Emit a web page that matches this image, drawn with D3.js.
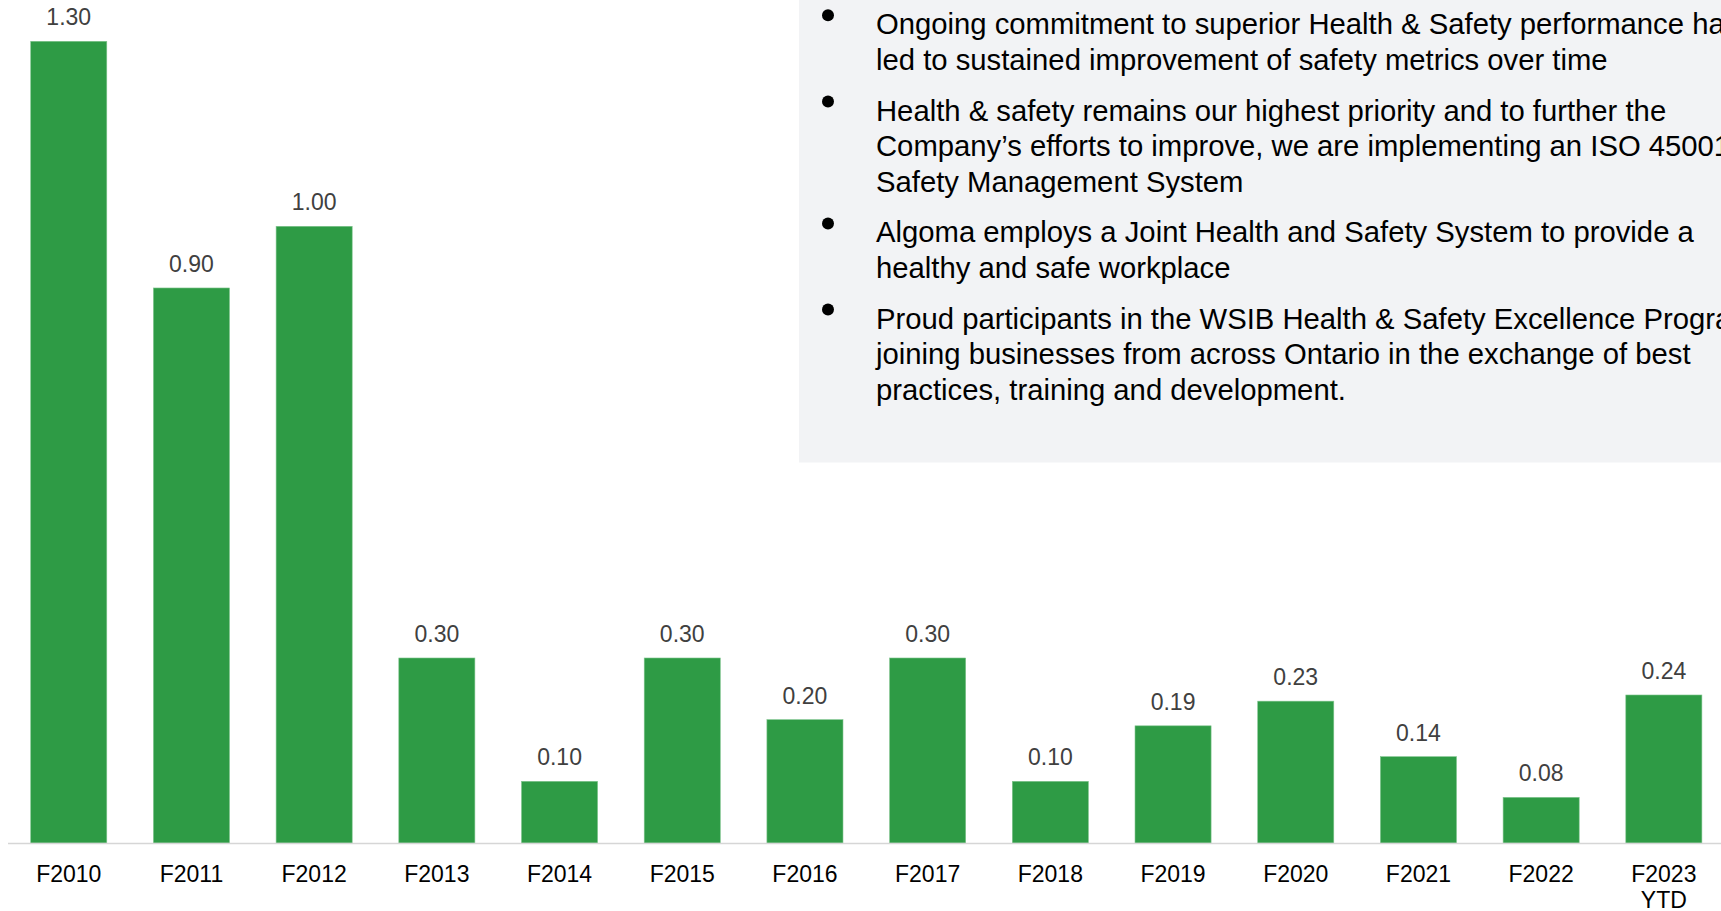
<!DOCTYPE html>
<html>
  <head>
    <title>Safety Performance</title>
    <script src="https://d3js.org/d3.v7.min.js" charset="utf-8"></script>
    <style>
      html,
      body {
        margin: 0;
        padding: 0;
        background: #ffffff;
      }
      svg {
        display: block;
        font-family: "Liberation Sans", Arial, sans-serif;
      }
    </style>
  </head>
  <body>
    <svg></svg>

    <script>
      // chart data
      const years = [
        "F2010", "F2011", "F2012", "F2013", "F2014", "F2015", "F2016",
        "F2017", "F2018", "F2019", "F2020", "F2021", "F2022", "F2023 YTD",
      ];
      // bar heights as drawn (F2022 is drawn a bit under its 0.08 label)
      const rates = [
        1.3, 0.9, 1.0, 0.3, 0.1, 0.3, 0.2, 0.3, 0.1, 0.19, 0.23, 0.14, 0.074, 0.24,
      ];
      const rateLabels = [
        "1.30", "0.90", "1.00", "0.30", "0.10", "0.30", "0.20",
        "0.30", "0.10", "0.19", "0.23", "0.14", "0.08", "0.24",
      ];
      // tick labels (two lines for the last one)
      const tickLabels = [
        ["F2010"], ["F2011"], ["F2012"], ["F2013"], ["F2014"], ["F2015"],
        ["F2016"], ["F2017"], ["F2018"], ["F2019"], ["F2020"], ["F2021"],
        ["F2022"], ["F2023", "YTD"],
      ];
      // bullet points in the side panel, one array of lines each
      const bullets = [
        [
          "Ongoing commitment to superior Health & Safety performance has",
          "led to sustained improvement of safety metrics over time",
        ],
        [
          "Health & safety remains our highest priority and to further the",
          "Company\u2019s efforts to improve, we are implementing an ISO 45001",
          "Safety Management System",
        ],
        [
          "Algoma employs a Joint Health and Safety System to provide a",
          "healthy and safe workplace",
        ],
        [
          "Proud participants in the WSIB Health & Safety Excellence Program,",
          "joining businesses from across Ontario in the exchange of best",
          "practices, training and development.",
        ],
      ];

      const width = 1721;
      const height = 911;
      const baseY = 843;

      const svg = d3
        .select("svg")
        .attr("width", width)
        .attr("height", height);

      const data = years.map((y, i) => ({
        year: y,
        value: rates[i],
        text: rateLabels[i],
        label: tickLabels[i],
      }));

      const x = d3
        .scaleBand()
        .domain(years)
        .range([7.4, 1725.2])
        .paddingInner(0.38)
        .paddingOuter(0.19);

      const y = d3.scaleLinear().domain([0, 1.3]).range([baseY, 41.3]);

      // bars
      svg
        .selectAll(".bar")
        .data(data)
        .enter()
        .append("rect")
        .attr("class", "bar")
        .attr("x", (d) => x(d.year))
        .attr("y", (d) => y(d.value))
        .attr("width", x.bandwidth())
        .attr("height", (d) => y(0) - y(d.value))
        .attr("fill", "#2e9b45")
        .attr("stroke", "#7fc48d")
        .attr("stroke-width", 0.6);

      // value labels
      svg
        .selectAll(".val")
        .data(data)
        .enter()
        .append("text")
        .attr("class", "val")
        .attr("x", (d) => x(d.year) + x.bandwidth() / 2)
        .attr("y", (d) => y(d.value) - 16)
        .attr("text-anchor", "middle")
        .attr("font-size", 23)
        .attr("fill", "#404040")
        .text((d) => d.text);

      // baseline
      svg
        .append("line")
        .attr("x1", 8)
        .attr("x2", width)
        .attr("y1", baseY + 0.5)
        .attr("y2", baseY + 0.5)
        .attr("stroke", "#d6d6d6")
        .attr("stroke-width", 1.6);

      // category labels
      const ticks = svg
        .selectAll(".tick-label")
        .data(data)
        .enter()
        .append("text")
        .attr("class", "tick-label")
        .attr("text-anchor", "middle")
        .attr("font-size", 23)
        .attr("fill", "#000000");

      ticks
        .selectAll("tspan")
        .data((d) => d.label.map((t) => ({ t, cx: x(d.year) + x.bandwidth() / 2 })))
        .enter()
        .append("tspan")
        .attr("x", (d) => d.cx)
        .attr("y", (d, i) => 882 + i * 25.5)
        .text((d) => d.t);

      // side panel
      const panel = svg.append("g");

      panel
        .append("rect")
        .attr("x", 799)
        .attr("y", 0)
        .attr("width", width - 799)
        .attr("height", 462.5)
        .attr("fill", "#f2f3f5");

      const lineH = 35.7;
      const paraGap = 50.5;
      let baseline = 34.3;

      bullets.forEach((lines) => {
        panel
          .append("circle")
          .attr("cx", 828)
          .attr("cy", baseline - 19)
          .attr("r", 6)
          .attr("fill", "#000000");

        lines.forEach((line, i) => {
          panel
            .append("text")
            .attr("x", 876)
            .attr("y", baseline + i * lineH)
            .attr("font-size", 29.25)
            .attr("fill", "#000000")
            .text(line);
        });

        baseline += (lines.length - 1) * lineH + paraGap;
      });
    </script>
  </body>
</html>
